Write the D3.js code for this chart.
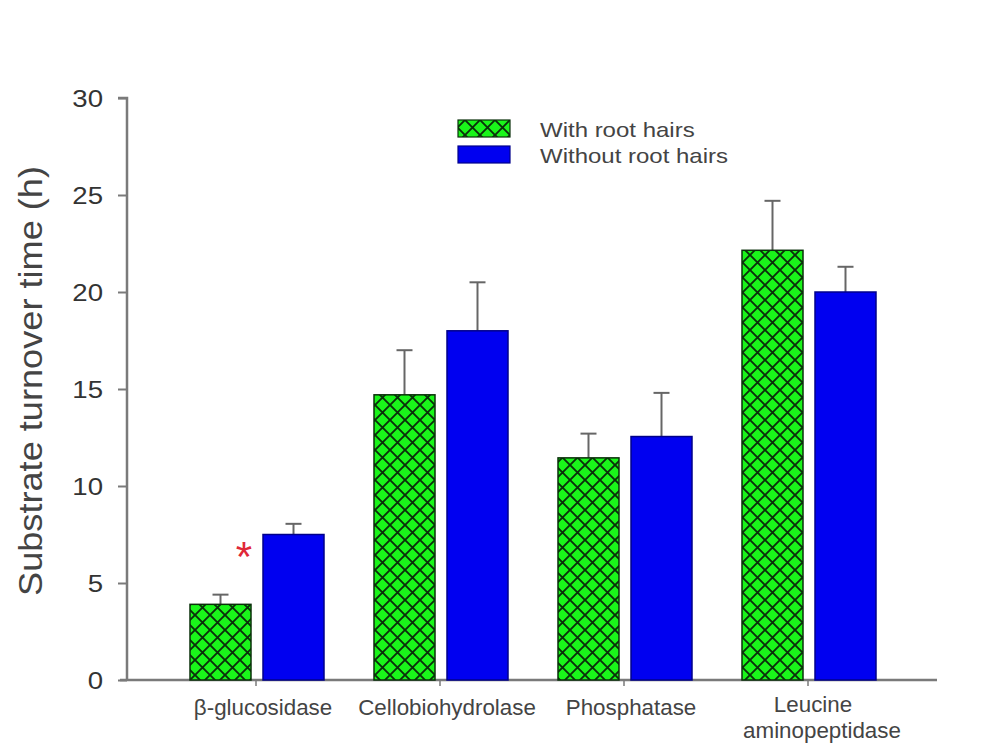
<!DOCTYPE html>
<html><head><meta charset="utf-8">
<script src="https://cdn.jsdelivr.net/npm/d3@7/dist/d3.min.js"></script>
<style>body{margin:0;background:#fff}svg{display:block}text{font-family:"Liberation Sans",Arial,sans-serif}</style>
</head><body>
<svg id="c" width="1002" height="749"></svg>
<script>
const categories = ["β-glucosidase","Cellobiohydrolase","Phosphatase","Leucine\naminopeptidase"];
const seriesNames = ["With root hairs","Without root hairs"];
const withHairs = [3.9, 14.7, 11.45, 22.15];
const withHairsErr = [0.5, 2.3, 1.25, 2.55];
const withoutHairs = [7.5, 18.0, 12.55, 20.0];
const withoutHairsErr = [0.55, 2.5, 2.25, 1.3];
const yTicks = [0,5,10,15,20,25,30];
const significant = [true,false,false,false];

const svg = d3.select("#c");
const x0 = 127, x1 = 937, yTop = 98, yBot = 680;
const y = d3.scaleLinear().domain([0,30]).range([yBot,yTop]);
const xc = d3.scalePoint().domain(categories).range([256,808]);
const barW = 61, gap = 12;

function stxt(g, x, yy, str, size, anchor, fill, sx){
  return g.append("text").attr("transform",`translate(${x},${yy}) scale(${sx},1)`)
    .attr("text-anchor",anchor).attr("fill",fill).style("font-size",size+"px").text(str);
}

const defs = svg.append("defs");
const pat = defs.append("pattern").attr("id","hatch").attr("patternUnits","userSpaceOnUse")
  .attr("width",15).attr("height",15);
pat.append("rect").attr("width",15).attr("height",15).attr("fill","#1af51a");
pat.append("path").attr("d","M-1,-1L16,16M16,-1L-1,16").attr("stroke","#0a300a").attr("stroke-width",1.9);

// axes
const axisCol = "#7a7a7a";
const yAxis = svg.append("g").attr("transform",`translate(${x0},0)`)
  .call(d3.axisLeft(y).tickValues(yTicks).tickSize(9).tickFormat(""));
yAxis.select(".domain").attr("stroke",axisCol).attr("stroke-width",2.5).attr("d",`M-9,${yTop}H0V${yBot}`);
yAxis.selectAll(".tick line").attr("stroke",axisCol).attr("stroke-width",2);
yTicks.forEach(t=>stxt(svg, 103, y(t)+9, String(t), 24, "end", "#333", 1.15));

svg.append("line").attr("x1",120).attr("x2",x1).attr("y1",yBot).attr("y2",yBot)
  .attr("stroke",axisCol).attr("stroke-width",2.5);
svg.selectAll(".xt").data(categories).join("line").attr("class","xt")
  .attr("x1",d=>xc(d)).attr("x2",d=>xc(d)).attr("y1",yBot).attr("y2",yBot+6)
  .attr("stroke",axisCol).attr("stroke-width",1.5);

// x labels
categories.forEach(c=>{
  const lines = c.split("\n");
  lines.forEach((l,i)=>{
    const yy = lines.length>1 ? 712+i*26 : 715;
    stxt(svg, xc(c)+(lines.length>1 ? (i?14:5) : 7), yy, l, 21.5, "middle", "#444", 1.04);
  });
});

// y title
svg.append("text").attr("transform",`translate(42,381) rotate(-90)`)
  .attr("text-anchor","middle").attr("fill","#444").style("font-size","33px")
  .attr("textLength",430).attr("lengthAdjust","spacingAndGlyphs")
  .text("Substrate turnover time (h)");

// bars
function drawSeries(vals, errs, offset, fill, stroke){
  const g = svg.append("g");
  categories.forEach((c,i)=>{
    const bx = xc(c)+offset;
    const top = y(vals[i]), et = y(vals[i]+errs[i]);
    g.append("line").attr("x1",bx+barW/2).attr("x2",bx+barW/2).attr("y1",top).attr("y2",et)
      .attr("stroke","#666").attr("stroke-width",2);
    g.append("line").attr("x1",bx+barW/2-8).attr("x2",bx+barW/2+8).attr("y1",et).attr("y2",et)
      .attr("stroke","#666").attr("stroke-width",2);
    g.append("rect").attr("x",bx).attr("y",top).attr("width",barW).attr("height",yBot-top)
      .attr("fill",fill).attr("stroke",stroke).attr("stroke-width",1.5);
  });
}
drawSeries(withHairs, withHairsErr, -barW-gap/2+1, "url(#hatch)", "#0a300a");
drawSeries(withoutHairs, withoutHairsErr, gap/2+1, "#0000f0", "#00008a");

// significance
categories.forEach((c,i)=>{
  if(significant[i]) svg.append("text").attr("x",xc(c)-12).attr("y",y(withoutHairs[i])+36)
    .attr("text-anchor","middle").attr("fill","#e02838").style("font-size","42px").text("*");
});

// legend
const leg = svg.append("g");
[["url(#hatch)","#0a300a"],["#0000f0","#00008a"]].forEach((s,i)=>{
  leg.append("rect").attr("x",458).attr("y",120+i*26).attr("width",52).attr("height",17)
    .attr("fill",s[0]).attr("stroke",s[1]).attr("stroke-width",1.2);
  stxt(leg, 540, 137+i*26, seriesNames[i], 20, "start", "#444", 1.2);
});
</script>
</body></html>
